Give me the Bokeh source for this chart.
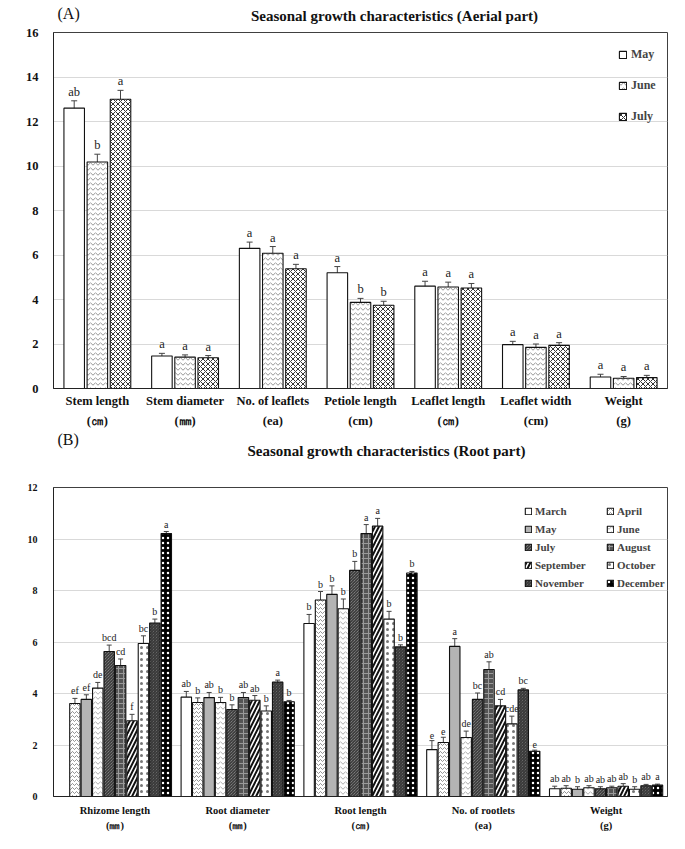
import math
from bokeh.plotting import figure
from bokeh.models import (ColumnDataSource, FactorRange, Whisker, TeeHead, Legend, LegendItem,
                          Label, CategoricalAxis, Range1d, FixedTicker)
from bokeh.transform import dodge
from bokeh.layouts import column
from bokeh.embed import file_html
from bokeh.resources import INLINE
from bokeh.core.properties import value

NaN = float("nan")

# ---------------- data: aerial part ----------------
aerial_categories = ["Stem length", "Stem diameter", "No. of leaflets", "Petiole length",
                     "Leaflet length", "Leaflet width", "Weight"]
aerial_units = ["(㎝)", "(㎜)", "(ea)", "(cm)", "(㎝)", "(cm)", "(g)"]
aerial_months = ["May", "June", "July"]
aerial_may = [12.6, 1.46, 6.3, 5.2, 4.6, 1.97, 0.52]
aerial_june = [10.18, 1.41, 6.08, 3.87, 4.56, 1.85, 0.46]
aerial_july = [13.0, 1.38, 5.38, 3.74, 4.52, 1.94, 0.49]
aerial_may_err = [0.33, 0.12, 0.28, 0.28, 0.22, 0.15, 0.12]
aerial_june_err = [0.35, 0.1, 0.3, 0.18, 0.22, 0.15, 0.08]
aerial_july_err = [0.4, 0.1, 0.2, 0.18, 0.2, 0.12, 0.1]
aerial_may_letters = ["ab", "a", "a", "a", "a", "a", "a"]
aerial_june_letters = ["b", "a", "a", "b", "a", "a", "a"]
aerial_july_letters = ["a", "a", "a", "b", "a", "a", "a"]

# ---------------- data: root part ----------------
root_categories = ["Rhizome length", "Root diameter", "Root length", "No. of rootlets", "Weight"]
root_units = ["(㎜)", "(㎜)", "(㎝)", "(ea)", "(g)"]
root_months = ["March", "April", "May", "June", "July", "August",
               "September", "October", "November", "December"]
root_march = [NaN, 3.86, 6.72, 1.82, 0.3]
root_april = [3.61, 3.65, 7.63, 2.1, 0.32]
root_may = [3.77, 3.84, 7.85, 5.83, 0.28]
root_june = [4.21, 3.65, 7.29, 2.29, 0.34]
root_july = [5.63, 3.38, 8.78, 3.77, 0.3]
root_august = [5.09, 3.84, 10.21, 4.93, 0.34]
root_september = [2.94, 3.74, 10.5, 3.52, 0.4]
root_october = [5.94, 3.32, 6.89, 2.82, 0.28]
root_november = [6.74, 4.44, 5.81, 4.14, 0.42]
root_december = [10.21, 3.68, 8.68, 1.76, 0.44]
root_march_err = [NaN, 0.22, 0.35, 0.35, 0.1]
root_april_err = [0.2, 0.18, 0.33, 0.2, 0.1]
root_may_err = [0.18, 0.2, 0.33, 0.3, 0.1]
root_june_err = [0.22, 0.2, 0.38, 0.25, 0.08]
root_july_err = [0.25, 0.18, 0.35, 0.25, 0.08]
root_august_err = [0.25, 0.2, 0.35, 0.3, 0.06]
root_september_err = [0.25, 0.18, 0.3, 0.25, 0.1]
root_october_err = [0.3, 0.2, 0.3, 0.3, 0.1]
root_november_err = [0.15, 0.08, 0.08, 0.06, 0.05]
root_december_err = [0.08, 0.05, 0.06, 0.04, 0.04]
root_march_letters = ["", "ab", "b", "e", "ab"]
root_april_letters = ["ef", "b", "b", "e", "ab"]
root_may_letters = ["ef", "ab", "b", "a", "b"]
root_june_letters = ["de", "b", "b", "de", "ab"]
root_july_letters = ["bcd", "b", "b", "bc", "ab"]
root_august_letters = ["cd", "ab", "a", "ab", "ab"]
root_september_letters = ["f", "ab", "a", "cd", "ab"]
root_october_letters = ["bc", "b", "b", "cde", "b"]
root_november_letters = ["b", "a", "b", "bc", "ab"]
root_december_letters = ["a", "b", "b", "e", "a"]

aerial_series = [(aerial_may, aerial_may_err, aerial_may_letters),
                 (aerial_june, aerial_june_err, aerial_june_letters),
                 (aerial_july, aerial_july_err, aerial_july_letters)]
root_series = [(root_march, root_march_err, root_march_letters),
               (root_april, root_april_err, root_april_letters),
               (root_may, root_may_err, root_may_letters),
               (root_june, root_june_err, root_june_letters),
               (root_july, root_july_err, root_july_letters),
               (root_august, root_august_err, root_august_letters),
               (root_september, root_september_err, root_september_letters),
               (root_october, root_october_err, root_october_letters),
               (root_november, root_november_err, root_november_letters),
               (root_december, root_december_err, root_december_letters)]

# ---------------- styles ----------------
SERIF = "Liberation Serif"
TEXT = "#111111"
aerial_styles = [
    dict(fill_color="white"),
    dict(fill_color="white", hatch_pattern="v", hatch_color="#666666", hatch_scale=5, hatch_weight=0.7),
    dict(fill_color="white", hatch_pattern="x", hatch_color="#333333", hatch_scale=5, hatch_weight=1),
]
root_styles = [
    dict(fill_color="white"),
    dict(fill_color="white", hatch_pattern="v", hatch_color="#666666", hatch_scale=4, hatch_weight=0.7),
    dict(fill_color="#b4b4b4"),
    dict(fill_color="white", hatch_pattern="v", hatch_color="#888888", hatch_scale=5, hatch_weight=0.7),
    dict(fill_color="#9a9a9a", hatch_pattern="\\", hatch_color="#222222", hatch_scale=3, hatch_weight=1),
    dict(fill_color="#555555", hatch_pattern="+", hatch_color="#9a9a9a", hatch_scale=5, hatch_weight=1),
    dict(fill_color="white", hatch_pattern="/", hatch_color="#111111", hatch_scale=8, hatch_weight=2),
    dict(fill_color="white", hatch_pattern=".", hatch_color="#777777", hatch_scale=6, hatch_weight=1),
    dict(fill_color="#8a8a8a", hatch_pattern="\\", hatch_color="#333333", hatch_scale=3, hatch_weight=1.2),
    dict(fill_color="black", hatch_pattern=".", hatch_color="white", hatch_scale=5, hatch_weight=2),
]


def unique_labels(labels):
    seen = {}
    out = []
    for lab in labels:
        k = seen.get(lab, 0)
        seen[lab] = k + 1
        out.append(lab + "\u200b" * k)
    return out


def make_header(height, tag, tag_y, title, title_x, title_y):
    h = figure(width=669, height=height, x_range=Range1d(0, 1), y_range=Range1d(0, 1),
               x_axis_type=None, y_axis_type=None, min_border=0, output_backend="svg",
               toolbar_location=None)
    h.outline_line_color = None
    h.background_fill_color = "white"
    h.border_fill_color = "white"
    h.add_layout(Label(x=4, y=tag_y, x_units="screen", y_units="screen", text=tag,
                       text_font=SERIF, text_font_size="16px", text_align="left",
                       text_baseline="middle", text_color=TEXT))
    h.add_layout(Label(x=title_x, y=title_y, x_units="screen", y_units="screen", text=title,
                       text_font=SERIF, text_font_style="bold", text_font_size="15px",
                       text_align="center", text_baseline="middle", text_color=TEXT))
    return h


def make_panel(categories, units, months, series, styles, ymax, height,
               b_left, b_top, b_bottom, step, bar_w, fs):
    p = figure(x_range=FactorRange(factors=categories, range_padding=0),
               y_range=Range1d(0, ymax), width=669, height=height,
               output_backend="svg", toolbar_location=None,
               min_border_left=b_left, min_border_right=2,
               min_border_top=b_top, min_border_bottom=b_bottom)
    p.extra_x_ranges = {"units": FactorRange(factors=unique_labels(units), range_padding=0)}
    p.background_fill_color = "white"
    p.border_fill_color = "white"
    p.outline_line_color = "#404040"
    p.outline_line_width = 1
    p.xgrid.grid_line_color = None
    p.ygrid.grid_line_color = "#d9d9d9"
    p.ygrid.grid_line_width = 1
    p.yaxis.ticker = FixedTicker(ticks=list(range(0, ymax + 1, 2)))

    unit_axis = CategoricalAxis(x_range_name="units")
    p.add_layout(unit_axis, "below")
    for ax in (p.xaxis[0], p.yaxis[0], unit_axis):
        ax.major_tick_line_color = None
        ax.minor_tick_line_color = None
        ax.major_tick_out = 0
        ax.major_tick_in = 0
        ax.axis_line_color = "#222222"
        ax.axis_line_width = 1
        ax.major_label_text_font = SERIF
        ax.major_label_text_font_style = "bold"
        ax.major_label_text_color = TEXT
    unit_axis.axis_line_color = None
    p.yaxis.major_label_text_font_size = fs["tick"]
    p.yaxis.major_label_standoff = fs["ystand"]
    p.xaxis[0].major_label_text_font_size = fs["cat"]
    p.xaxis[0].major_label_standoff = fs["cat_stand1"]
    unit_axis.major_label_text_font_size = fs["cat"]
    unit_axis.major_label_standoff = fs["cat_stand2"]

    n = len(series)
    items = []
    for i, ((vals, errs, letters), month, style) in enumerate(zip(series, months, styles)):
        upper = [v + e for v, e in zip(vals, errs)]
        lower = [v - e for v, e in zip(vals, errs)]
        src = ColumnDataSource(dict(cat=categories, val=vals, upper=upper, lower=lower,
                                    letter=letters))
        off = (i - (n - 1) / 2) * step
        r = p.vbar(x=dodge("cat", off, range=p.x_range), top="val", width=bar_w, bottom=0,
                   source=src, line_color="#111111", line_width=1.1, **style)
        items.append(LegendItem(label=month, renderers=[r]))
        w = Whisker(base=dodge("cat", off, range=p.x_range), upper="upper", lower="lower",
                    source=src, line_color="#444444", line_width=1,
                    upper_head=TeeHead(size=fs["tee"], line_color="#444444", line_width=1),
                    lower_head=TeeHead(size=fs["tee"], line_color="#444444", line_width=1))
        p.add_layout(w)
        p.text(x=dodge("cat", off, range=p.x_range), y="upper", text="letter", source=src,
               text_align="center", text_baseline="bottom", y_offset=-2,
               text_font=value(SERIF), text_font_size=fs["letter"], text_color="#222222")
    return p, items


# ---------------- panel A ----------------
hA = make_header(26, "(A)", 13, "Seasonal growth characteristics (Aerial part)", 341, 11)
fsA = dict(tick="12.5px", ystand=15, cat="12.5px", cat_stand1=5, cat_stand2=3, tee=6, letter="12.5px")
pA, itemsA = make_panel(aerial_categories, aerial_units, aerial_months, aerial_series, aerial_styles,
                        16, 404, 43, 6, 40, 0.264, 0.234, fsA)
legA = Legend(items=itemsA, location=(565, 264), orientation="vertical",
              label_text_font=SERIF, label_text_font_style="bold", label_text_font_size="12px",
              glyph_width=9, glyph_height=9, label_height=12, spacing=16, padding=0, margin=0,
              label_standoff=4, background_fill_alpha=0, border_line_color=None)
pA.add_layout(legA)

# ---------------- panel B ----------------
hB = make_header(40, "(B)", 31, "Seasonal growth characteristics (Root part)", 333, 20)
fsB = dict(tick="10px", ystand=16, cat="10.5px", cat_stand1=8, cat_stand2=1, tee=5, letter="10px")
pB, itemsB = make_panel(root_categories, root_units, root_months, root_series, root_styles,
                        12, 363, 53, 17, 33, 0.093, 0.085, fsB)
order = [0, 2, 4, 6, 8, 1, 3, 5, 7, 9]
legB = Legend(items=[itemsB[k] for k in order], location=(471, 207), orientation="vertical",
              ncols=2, label_text_font=SERIF, label_text_font_style="bold",
              label_text_font_size="11px", glyph_width=8, glyph_height=8, label_height=12,
              label_width=65, spacing=6, padding=0, margin=0, label_standoff=3,
              background_fill_alpha=0, border_line_color=None)
pB.add_layout(legB)

layout = column(hA, pA, hB, pB, spacing=0)
open("out.html", "w").write(file_html(layout, INLINE))
